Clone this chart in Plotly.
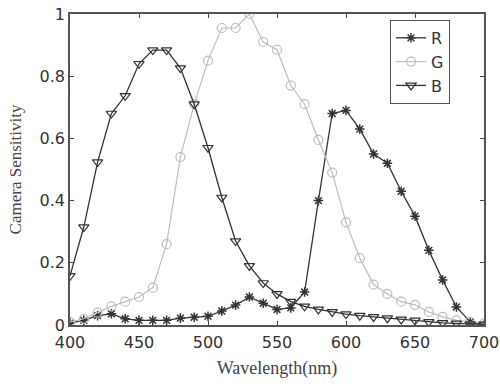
import plotly.graph_objects as go

wavelength = list(range(400, 701, 10))

R = [0.006, 0.015, 0.03, 0.036, 0.02, 0.015, 0.015, 0.015, 0.022, 0.025, 0.028,
     0.045, 0.064, 0.09, 0.07, 0.05, 0.055, 0.106, 0.40, 0.68, 0.69,
     0.63, 0.55, 0.52, 0.43, 0.35, 0.24, 0.145, 0.058, 0.01, 0.0]

G = [0.01, 0.02, 0.04, 0.06, 0.075, 0.09, 0.12, 0.26, 0.54, 0.71, 0.85,
     0.955, 0.955, 1.0, 0.91, 0.885, 0.77, 0.71, 0.595, 0.49, 0.33,
     0.215, 0.13, 0.10, 0.075, 0.065, 0.042, 0.026, 0.015, 0.01, 0.005]

B = [0.158, 0.315, 0.524, 0.68, 0.737, 0.84, 0.884, 0.884, 0.826, 0.71, 0.57,
     0.41, 0.27, 0.19, 0.135, 0.10, 0.075, 0.06, 0.05, 0.042, 0.035,
     0.03, 0.026, 0.022, 0.018, 0.015, 0.01, 0.007, 0.005, 0.003, 0.002]

x_ticks = [400, 450, 500, 550, 600, 650, 700]
y_ticks = [0, 0.2, 0.4, 0.6, 0.8, 1]
y_tick_labels = ["0", "0.2", "0.4", "0.6", "0.8", "1"]

fig = go.Figure()
fig.add_trace(go.Scatter(x=wavelength, y=R, name="R", mode="lines+markers",
                         line=dict(color="#333333", width=1.3),
                         marker=dict(symbol="asterisk-open", size=8,
                                     line=dict(color="#333333", width=1.5))))
fig.add_trace(go.Scatter(x=wavelength, y=G, name="G", mode="lines+markers",
                         line=dict(color="#bdbdbd", width=1.2),
                         marker=dict(symbol="circle-open", size=9,
                                     line=dict(color="#bdbdbd", width=1.2))))
fig.add_trace(go.Scatter(x=wavelength, y=B, name="B", mode="lines+markers",
                         line=dict(color="#333333", width=1.3),
                         marker=dict(symbol="triangle-down-open", size=9,
                                     line=dict(color="#333333", width=1.2))))

fig.update_layout(
    width=500, height=389,
    margin=dict(l=70, r=16, t=14, b=64, autoexpand=False),
    paper_bgcolor="white", plot_bgcolor="white",
    font=dict(family="DejaVu Sans", color="#333333", size=15),
    legend=dict(x=0.773, y=0.981, xanchor="left", yanchor="top",
                bordercolor="#555555", borderwidth=1, bgcolor="white",
                font=dict(size=16, family="DejaVu Sans"),
                itemwidth=30, tracegroupgap=0,
                entrywidth=14, entrywidthmode="pixels"),
    xaxis=dict(range=[400, 700], tickvals=x_ticks, ticks="inside", ticklen=4,
               showline=True, linecolor="#555555", linewidth=1.5, mirror="ticks",
               showgrid=False, zeroline=False, automargin=False,
               tickfont=dict(size=16), ticklabelstandoff=2,
               title=dict(text="Wavelength(nm)", standoff=10,
                          font=dict(family="Liberation Serif, Times New Roman",
                                    size=18, color="#444444"))),
    yaxis=dict(range=[0, 1], tickvals=y_ticks, ticktext=y_tick_labels,
               ticks="inside", ticklen=4, automargin=False,
               showline=True, linecolor="#555555", linewidth=1.5, mirror="ticks",
               showgrid=False, zeroline=False,
               tickfont=dict(size=16),
               title=dict(text="Camera Sensitivity", standoff=14,
                          font=dict(family="Liberation Serif, Times New Roman",
                                    size=17, color="#444444"))),
)

fig.write_html("out.html", config={"displayModeBar": False},
               post_script="document.body.style.margin='0';document.body.style.overflow='hidden';")
